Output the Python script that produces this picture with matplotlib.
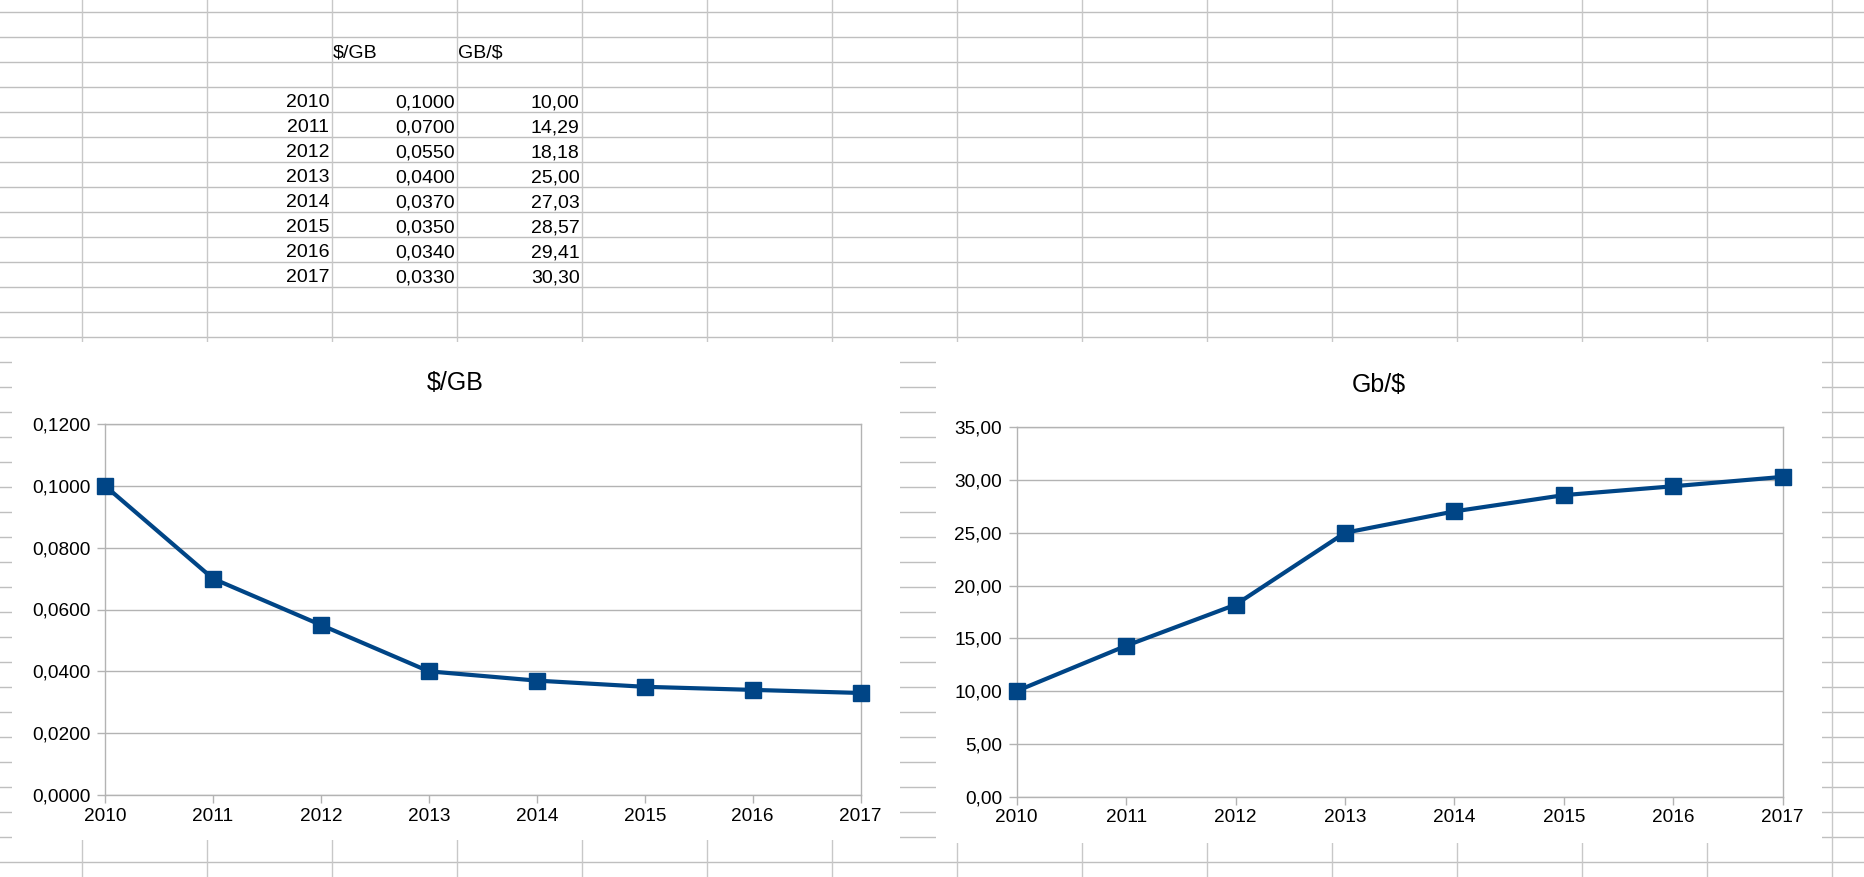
import matplotlib
matplotlib.use("Agg")
import matplotlib.pyplot as plt
from matplotlib.patches import Rectangle
from matplotlib.ticker import FuncFormatter

# data from the sheet
years = [2010, 2011, 2012, 2013, 2014, 2015, 2016, 2017]
usd_per_gb = [0.1000, 0.0700, 0.0550, 0.0400, 0.0370, 0.0350, 0.0340, 0.0330]
gb_per_usd = [10.00, 14.29, 18.18, 25.00, 27.03, 28.57, 29.41, 30.30]
table_headers = ["$/GB", "GB/$"]
chart_titles = ["$/GB", "Gb/$"]

plt.rcParams["font.family"] = ["Liberation Sans", "DejaVu Sans"]

W, H = 1865, 877
fig = plt.figure(figsize=(W / 100, H / 100), dpi=100)
fig.patch.set_facecolor("white")

# background "spreadsheet" layer in pixel coordinates
bg = fig.add_axes([0, 0, 1, 1])
bg.set_xlim(0, W)
bg.set_ylim(H, 0)
bg.axis("off")

for k in range(35):
    bg.axhline(12.3 + 25 * k, color="#bfbfbf", lw=1.0, zorder=1)
for k in range(15):
    bg.axvline(81.7 + 125 * k, color="#c8c8c8", lw=1.0, zorder=1)

# chart panels cover the grid
bg.add_patch(Rectangle((12, 342), 888, 498, fc="white", ec="none", zorder=3))
bg.add_patch(Rectangle((936, 342), 886, 501, fc="white", ec="none", zorder=3))

# table cells
bg.text(333, 57.3, table_headers[0], ha="left", va="baseline", fontsize=14, parse_math=False, zorder=4)
bg.text(458, 57.3, table_headers[1], ha="left", va="baseline", fontsize=14, parse_math=False, zorder=4)
for i, (yr, a, b) in enumerate(zip(years, usd_per_gb, gb_per_usd)):
    base = 107.3 + 25 * i
    bg.text(329.5, base, str(yr), ha="right", va="baseline", fontsize=14, zorder=4)
    bg.text(454.5, base, f"{a:.4f}".replace(".", ","), ha="right", va="baseline", fontsize=14, zorder=4)
    bg.text(579.5, base, f"{b:.2f}".replace(".", ","), ha="right", va="baseline", fontsize=14, zorder=4)


def draw_chart(box, values, ylim, step, fmt, title, title_xy):
    x0, y0, x1, y1 = box  # pixels: left, top, right, bottom
    ax = fig.add_axes([x0 / W, 1 - y1 / H, (x1 - x0) / W, (y1 - y0) / H])
    ax.set_facecolor("white")
    ax.plot(years, values, color="#004586", lw=3.0, marker="s", ms=11,
            clip_on=False, zorder=5)
    ax.set_xlim(years[0], years[-1])
    ax.set_ylim(*ylim)
    n = int(round(ylim[1] / step))
    ax.set_yticks([i * step for i in range(n + 1)])
    ax.set_xticks(years)
    ax.yaxis.set_major_formatter(FuncFormatter(lambda v, p: fmt.format(v).replace(".", ",")))
    ax.grid(axis="y", color="#b3b3b3", lw=1.0)
    ax.set_axisbelow(True)
    for s in ax.spines.values():
        s.set_color("#b3b3b3")
        s.set_linewidth(1.0)
    ax.tick_params(direction="out", length=5.8, width=1.0, color="#b3b3b3",
                   labelsize=13.7, labelcolor="black")
    ax.tick_params(axis="y", pad=4.8)
    ax.tick_params(axis="x", pad=3.5)
    bg.text(title_xy[0], title_xy[1], title, ha="center", va="baseline",
            fontsize=18, parse_math=False, zorder=5)
    return ax


draw_chart((105, 424, 860.7, 795), usd_per_gb, (0, 0.12), 0.02, "{:.4f}",
           chart_titles[0], (455, 389.5))
draw_chart((1016.7, 427.3, 1782.7, 796.5), gb_per_usd, (0, 35), 5, "{:.2f}",
           chart_titles[1], (1379, 392))

fig.savefig("out.png", dpi=100)
